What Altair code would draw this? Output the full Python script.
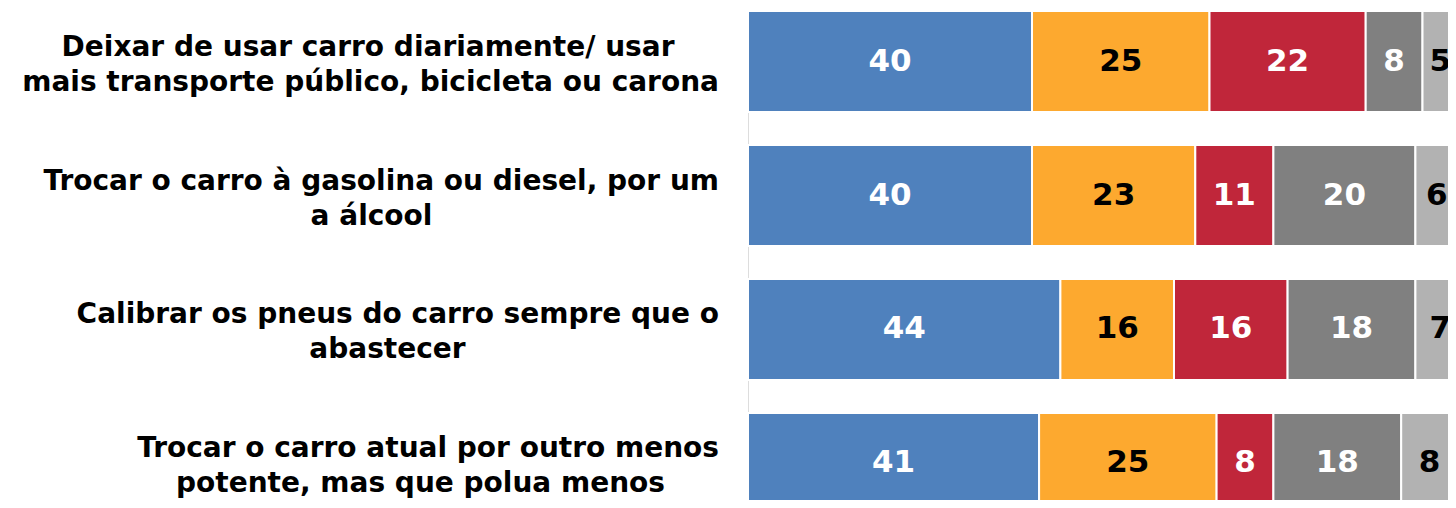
import altair as alt
import pandas as pd

label_lines = [
    ["Deixar de usar carro diariamente/ usar", "mais transporte público, bicicleta ou carona"],
    ["Trocar o carro à gasolina ou diesel, por um", "a álcool"],
    ["Calibrar os pneus do carro sempre que o", "abastecer"],
    ["Trocar o carro atual por outro menos", "potente, mas que polua menos"],
]
label_block_widths = [702, 695, 663, 597]
series = ["s1", "s2", "s3", "s4", "s5"]
values = [
    [40, 25, 22, 8, 5],
    [40, 23, 11, 20, 6],
    [44, 16, 16, 18, 7],
    [41, 25, 8, 18, 8],
]
colors = ["#4F81BD", "#FDA92F", "#C0263A", "#808080", "#B2B2B2"]
text_colors = ["#FFFFFF", "#000000", "#FFFFFF", "#FFFFFF", "#000000"]

categories = [" ".join(l) for l in label_lines]

rows = []
for ci, cat in enumerate(categories):
    for si, s in enumerate(series):
        rows.append({"cat": cat, "series": s, "order": si, "value": values[ci][si]})
df = pd.DataFrame(rows)

lrows = []
for ci, cat in enumerate(categories):
    lines = label_lines[ci]
    widest = max(range(len(lines)), key=lambda i: len(lines[i]))
    for li, t in enumerate(lines):
        lrows.append({"cat": cat, "line": li, "text": t, "wide": li == widest,
                      "bw": label_block_widths[ci]})
ldf = pd.DataFrame(lrows)

LABEL_GAP = 29
xscale = alt.Scale(domain=[0, 700 / 7.1], nice=False, zero=True)
yscale = alt.Scale(range=[0, 503], paddingInner=0.246, paddingOuter=0)
y_enc = alt.Y("cat:N", sort=categories, scale=yscale, axis=None)

base = alt.Chart(df).transform_stack(
    stack="value", groupby=["cat"], as_=["x0", "x1"], sort=[alt.SortField("order")]
).transform_calculate(mid="(datum.x0 + datum.x1) / 2")

bars = base.mark_bar(stroke="#FFFFFF", strokeWidth=2, clip=True).encode(
    x=alt.X("x0:Q", scale=xscale, axis=None),
    x2="x1:Q",
    y=y_enc,
    color=alt.Color("series:N", scale=alt.Scale(domain=series, range=colors), legend=None),
)

labels = base.mark_text(font="DejaVu Sans", fontSize=31, fontWeight="bold", baseline="middle").encode(
    x=alt.X("mid:Q", scale=xscale, axis=None),
    y=alt.Y("cat:N", sort=categories, axis=None),
    text="value:Q",
    color=alt.Color("series:N", scale=alt.Scale(domain=series, range=text_colors), legend=None),
)

cat_layers = []
for li, dy in [(0, -6), (1, 29)]:
    for wide in (True, False):
        c = alt.Chart(ldf).transform_filter(
            f"datum.line == {li} && datum.wide == {'true' if wide else 'false'}"
        ).transform_calculate(cx=f"-{LABEL_GAP} - datum.bw / 2")
        m = c.mark_text(
            font="DejaVu Sans", fontSize=28, fontWeight="bold", color="#000000",
            align="right" if wide else "center", baseline="alphabetic", dy=dy,
        )
        if wide:
            m = m.encode(x=alt.value(-LABEL_GAP), y=alt.Y("cat:N", sort=categories, axis=None), text="text:N")
        else:
            m = m.encode(x=alt.X("cx:Q", scale=None), y=alt.Y("cat:N", sort=categories, axis=None), text="text:N")
        cat_layers.append(m)

chart = alt.layer(bars, labels, *cat_layers).resolve_scale(color="independent").properties(
    width=700,
    height=489,
    autosize=alt.AutoSizeParams(type="none"),
    padding={"left": 740, "top": 3, "right": 0, "bottom": 0},
).configure_view(stroke=None).configure(background="#FFFFFF")

chart.save("out.html", embed_options={"renderer": "svg", "actions": False})
